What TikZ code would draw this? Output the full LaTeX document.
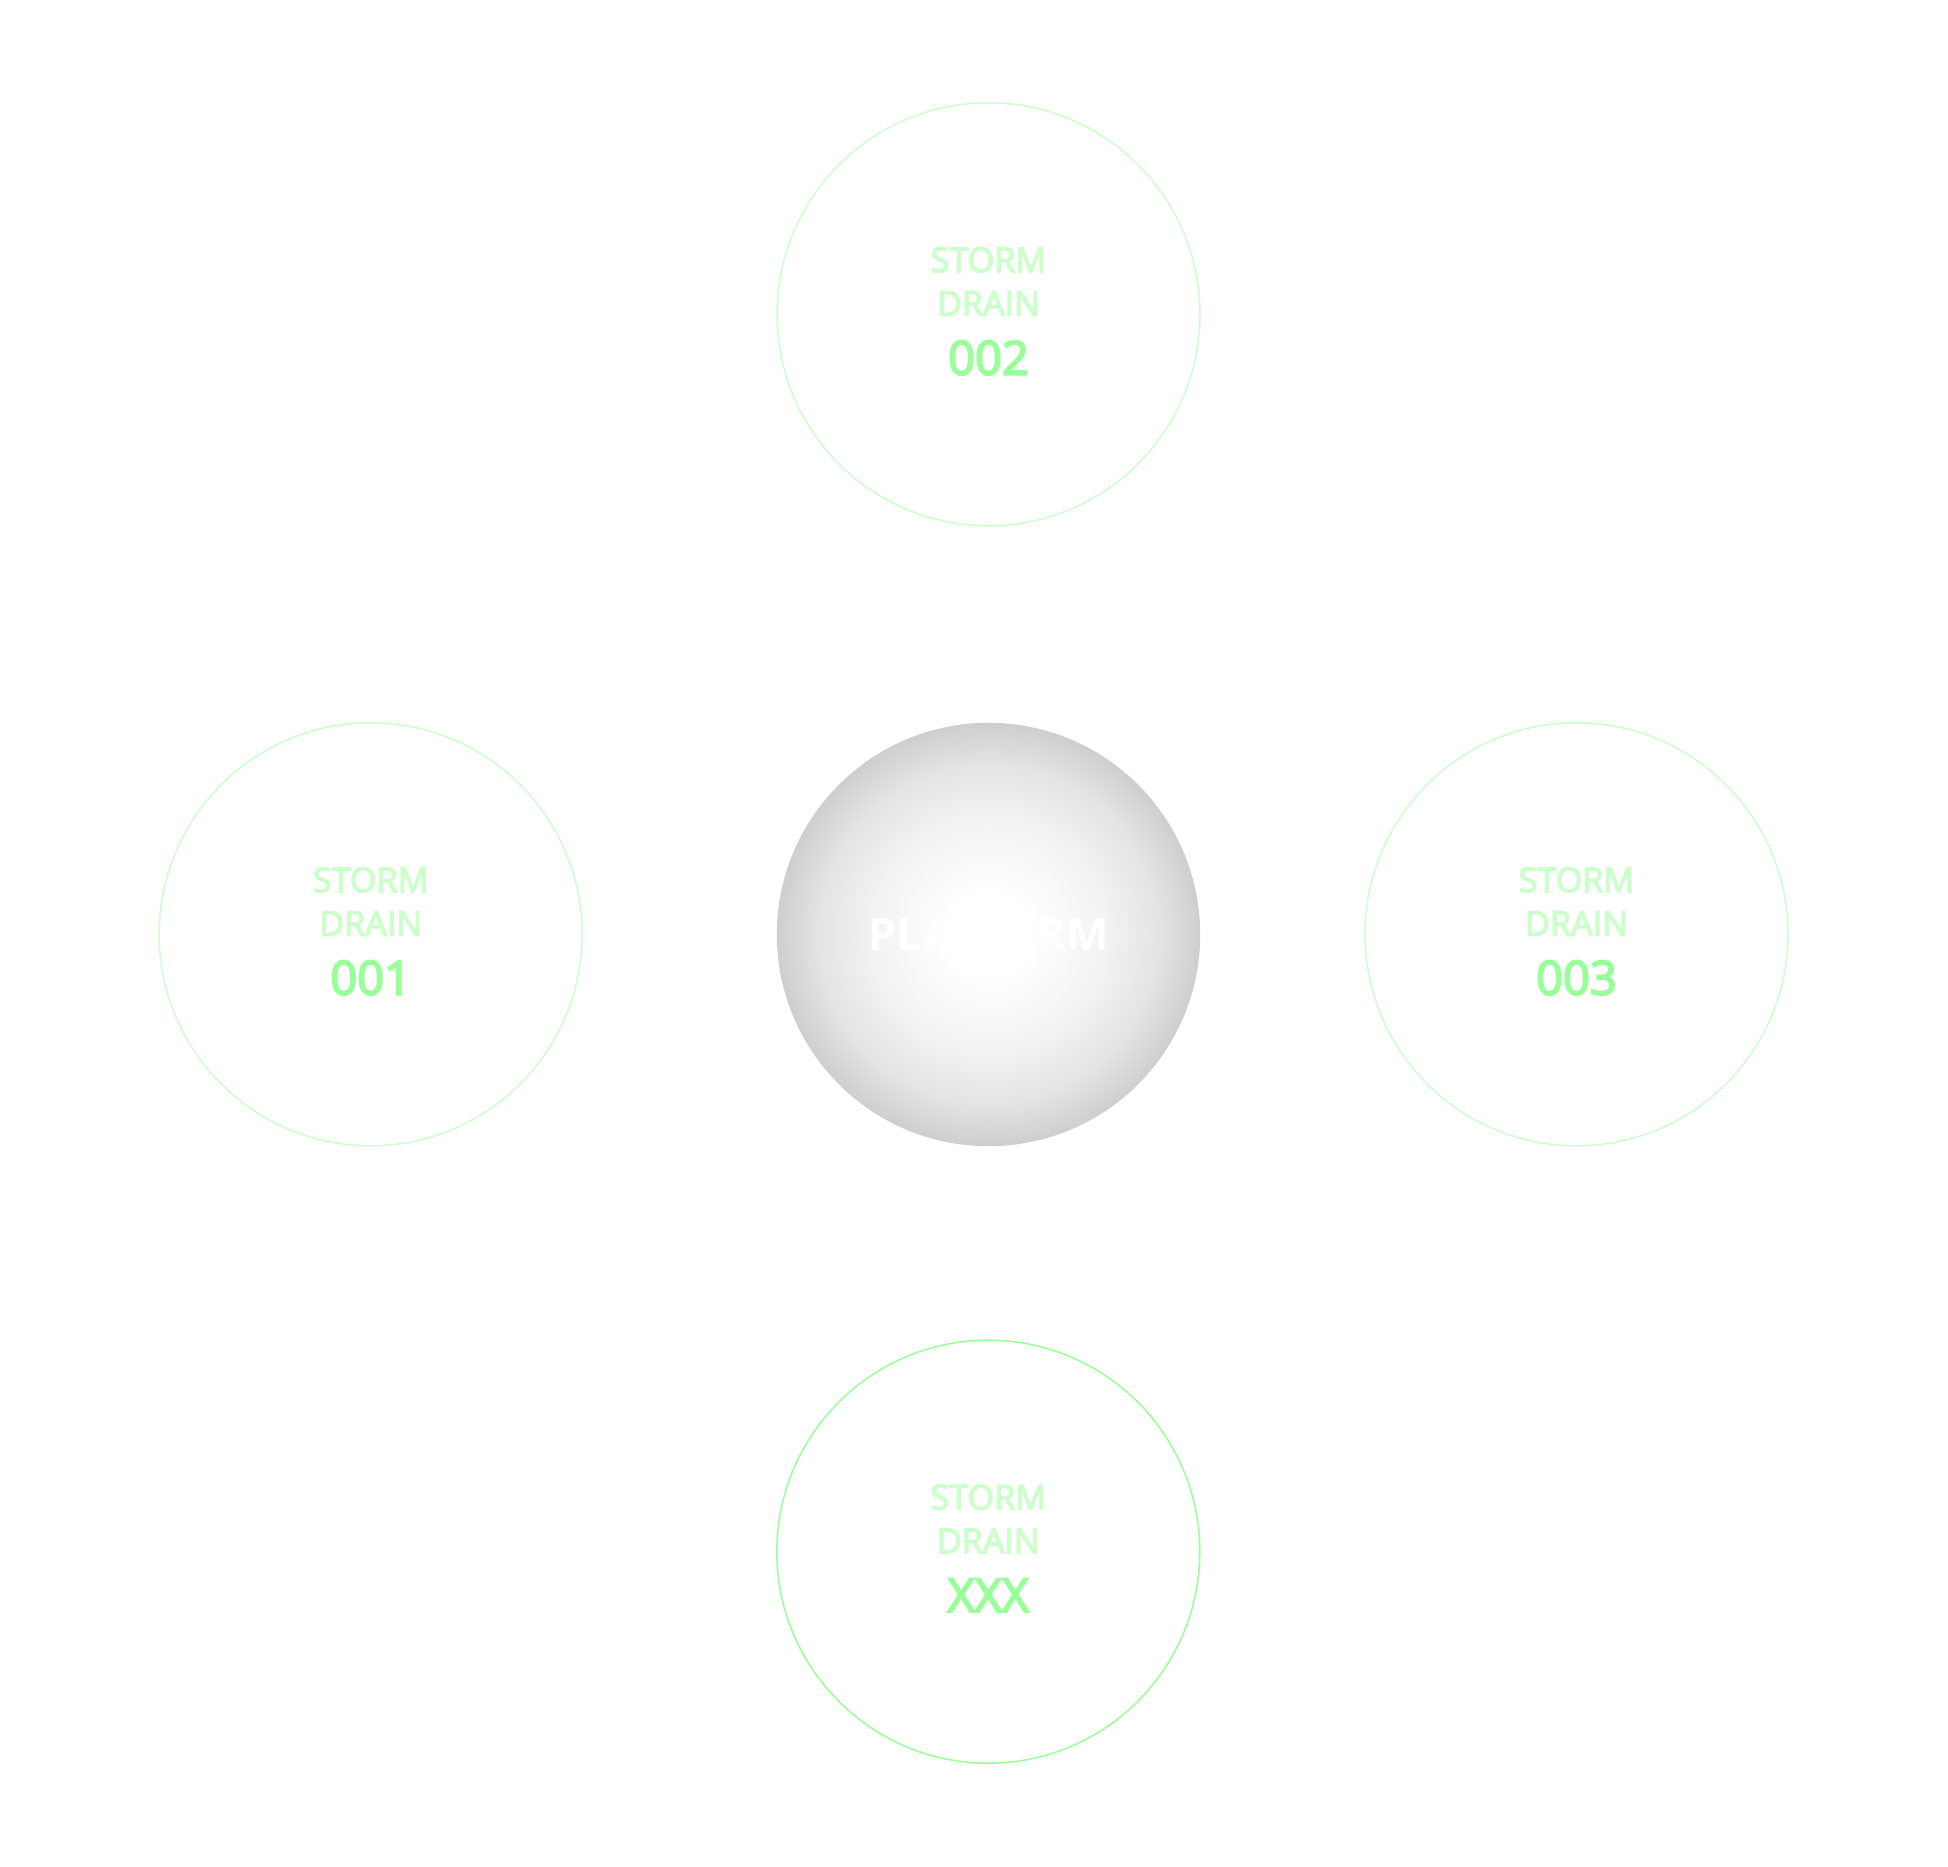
\documentclass[tikz,border=0pt]{standalone}
\usepackage{fontspec}
\setmainfont{Open Sans}
\newfontfamily\lblfont{Open Sans}[FakeBold=4]
\definecolor{lightgreen}{RGB}{204,255,204}
\definecolor{midgreen}{RGB}{153,255,153}
\definecolor{edgegray}{RGB}{206,206,206}
\definecolor{grayA}{RGB}{242,242,242}
\definecolor{grayB}{RGB}{228,228,228}
\pgfdeclareradialshading{platshade}{\pgfpoint{0bp}{0bp}}{%
  color(0bp)=(white); color(5bp)=(white); color(14bp)=(grayA);
  color(20bp)=(grayB); color(25bp)=(edgegray); color(50bp)=(edgegray)}
\tikzset{
  drain/.style={circle, draw=lightgreen, line width=1.5pt, minimum size=423pt, inner sep=0pt},
  draindark/.style={drain, draw=midgreen},
  wordtxt/.style={anchor=base, text=lightgreen, font=\lblfont\fontsize{34.2}{40}\selectfont, inner sep=0pt},
  numtxt/.style={anchor=base, text=midgreen, font=\lblfont\fontsize{47}{54}\selectfont, inner sep=0pt},
  plattxt/.style={anchor=base, text=white, font=\bfseries\fontsize{45}{52}\selectfont, inner sep=0pt}
}
\begin{document}
\begin{tikzpicture}[x=1pt,y=-1pt]
\useasboundingbox (0,0) rectangle (1948,1867);
% centre platform
\shade[shading=platshade] (988.5,934.5) circle (211.7);
\node[circle, minimum size=423pt, inner sep=0pt] (plat) at (988.5,934.5) {};
\node[plattxt] (plattext) at (988.5,950) {PLATFORM};
% drains
\node[drain] (d2) at (988.5,314.3) {};
\node[drain] (d1) at (370.7,934.3) {};
\node[drain] (d3) at (1576.5,934.3) {};
\node[draindark] (dx) at (988.3,1551.7) {};
% texts
\foreach \n/\cx/\cy/\num in {a/988.5/314.3/002, b/370.7/934.3/001, c/1576.5/934.3/003, d/988.3/1551.7/XXX}{
  \node[wordtxt] (s\n) at (\cx,\cy-42.2) {STORM};
  \node[wordtxt] (r\n) at (\cx,\cy+1.4) {DRAIN};
  \node[numtxt] (n\n) at (\cx,\cy+60.3) {\num};
}
\end{tikzpicture}
\end{document}
